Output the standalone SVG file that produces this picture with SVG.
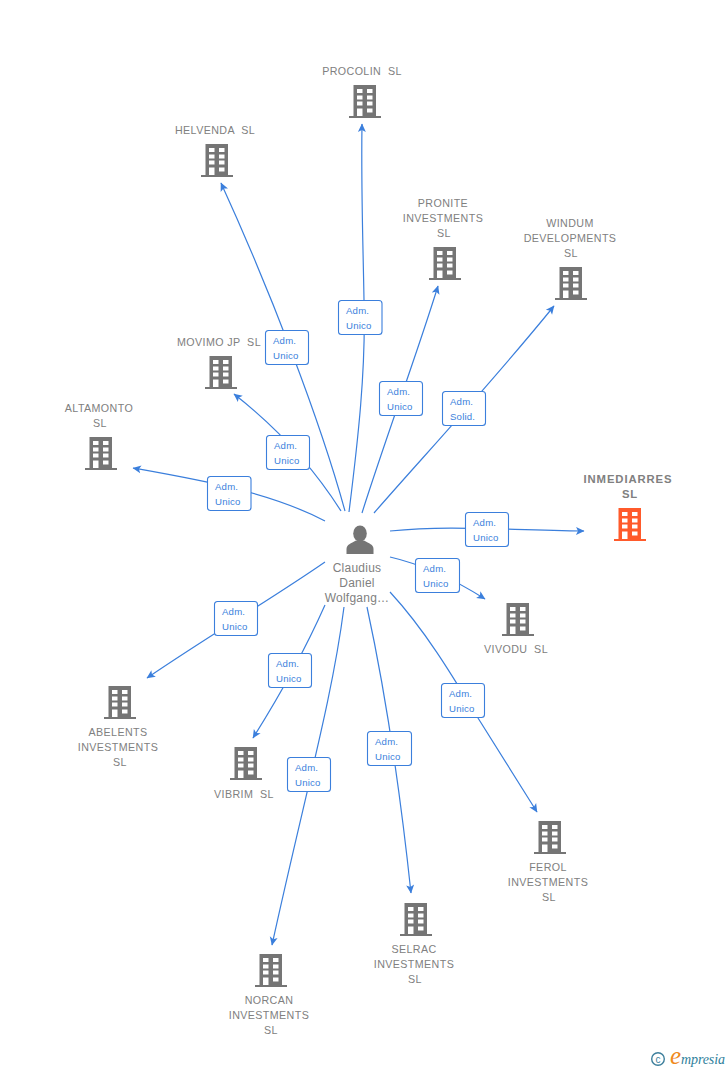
<svg xmlns="http://www.w3.org/2000/svg" width="728" height="1070" viewBox="0 0 728 1070">
<style>
.c{fill:none;stroke:#3b7fdc;stroke-width:1.2;marker-end:url(#a)}
.t{font:10.7px "Liberation Sans",Arial,sans-serif;fill:#808080;text-anchor:middle;letter-spacing:.4px;white-space:pre}
.l rect{fill:#fff;stroke:#3b7fdc;stroke-width:1.1}
.l text{font:9.6px "Liberation Sans",Arial,sans-serif;fill:#3b7fdc;letter-spacing:.2px}
</style>
<defs>
<marker id="a" markerWidth="11" markerHeight="10" refX="9" refY="5" orient="auto" markerUnits="userSpaceOnUse"><path d="M1 1L9.500 5L1 9L3 5Z" fill="#3b7fdc"/></marker>
<path id="b" fill-rule="evenodd" d="M4.500 0H27V31H32V33H0V31H4.500ZM8 4V8H13.500V4ZM18 4V8H23.500V4ZM8 10.500V14.500H13.500V10.500ZM18 10.500V14.500H23.500V10.500ZM8 16.500V20.500H13.500V16.500ZM18 16.500V20.500H23.500V16.500ZM8 23.500V31H13.500V23.500ZM18 23.500V27.500H23.500V23.500Z"/>
</defs>
<g id="connectors">
<path class="c" d="M349 512C358 440 366 370 364 300C363 240 361 190 362 124"/>
<path class="c" d="M345 511C320 420 270 290 221 183"/>
<path class="c" d="M362 513C385 440 415 360 438 286"/>
<path class="c" d="M374 513C420 460 490 385 554 306"/>
<path class="c" d="M341 511C315 470 280 430 234 394"/>
<path class="c" d="M325 521C270 492 200 480 133 468"/>
<path class="c" d="M390 531C450 525 500 530 584 531"/>
<path class="c" d="M390 557C425 565 455 580 485 599"/>
<path class="c" d="M325 562C270 600 210 635 147 678"/>
<path class="c" d="M325 605C305 650 280 695 253 738"/>
<path class="c" d="M344 607C332 700 306 790 272 945"/>
<path class="c" d="M367 607C385 690 400 790 411 893"/>
<path class="c" d="M390 592C425 630 452 675 478 718L537 812"/>
</g>
<g id="labels">
<g class="l" transform="translate(338.500 300.500)"><rect width="43.500" height="34" rx="3"/><text x="7.500" y="13">Adm.</text><text x="7.500" y="28">Unico</text></g>
<g class="l" transform="translate(265.500 330.500)"><rect width="43" height="34" rx="3"/><text x="7.500" y="13">Adm.</text><text x="7.500" y="28">Unico</text></g>
<g class="l" transform="translate(379.500 381.500)"><rect width="43" height="34" rx="3"/><text x="7.500" y="13">Adm.</text><text x="7.500" y="28">Unico</text></g>
<g class="l" transform="translate(442.500 391.500)"><rect width="43" height="34" rx="3"/><text x="7.500" y="13">Adm.</text><text x="7.500" y="28">Solid.</text></g>
<g class="l" transform="translate(266.500 435.500)"><rect width="43" height="34" rx="3"/><text x="7.500" y="13">Adm.</text><text x="7.500" y="28">Unico</text></g>
<g class="l" transform="translate(207.500 476.500)"><rect width="43.500" height="34" rx="3"/><text x="7.500" y="13">Adm.</text><text x="7.500" y="28">Unico</text></g>
<g class="l" transform="translate(465.500 512.500)"><rect width="43" height="34" rx="3"/><text x="7.500" y="13">Adm.</text><text x="7.500" y="28">Unico</text></g>
<g class="l" transform="translate(415.500 558.500)"><rect width="44" height="34" rx="3"/><text x="7.500" y="13">Adm.</text><text x="7.500" y="28">Unico</text></g>
<g class="l" transform="translate(214.500 601.500)"><rect width="43" height="34" rx="3"/><text x="7.500" y="13">Adm.</text><text x="7.500" y="28">Unico</text></g>
<g class="l" transform="translate(268.500 653.500)"><rect width="43" height="34" rx="3"/><text x="7.500" y="13">Adm.</text><text x="7.500" y="28">Unico</text></g>
<g class="l" transform="translate(287.500 757.500)"><rect width="43" height="34" rx="3"/><text x="7.500" y="13">Adm.</text><text x="7.500" y="28">Unico</text></g>
<g class="l" transform="translate(367.500 731.500)"><rect width="44" height="34" rx="3"/><text x="7.500" y="13">Adm.</text><text x="7.500" y="28">Unico</text></g>
<g class="l" transform="translate(441.500 683.500)"><rect width="43" height="34" rx="3"/><text x="7.500" y="13">Adm.</text><text x="7.500" y="28">Unico</text></g>
</g>
<g id="person">
<ellipse cx="360" cy="533.500" rx="6.800" ry="8" fill="#757575"/>
<path fill="#757575" d="M346.500 554V549C346.500 544.500 351 543.500 356 540.500H364C369 543.500 373.500 544.500 373.500 549V554Z"/>
<text class="t" style="font-size:12px;letter-spacing:.25px"><tspan x="357" y="572">Claudius</tspan><tspan x="357" y="587">Daniel</tspan><tspan x="357" y="602">Wolfgang…</tspan></text>
</g>
<g id="procolin"><use href="#b" x="349" y="85" fill="#757575"/><text class="t" x="362" y="75">PROCOLIN  SL</text></g>
<g id="helvenda"><use href="#b" x="201" y="144" fill="#757575"/><text class="t" x="215" y="134">HELVENDA  SL</text></g>
<g id="pronite"><use href="#b" x="429" y="247" fill="#757575"/><text class="t"><tspan x="443" y="207">PRONITE</tspan><tspan x="443" y="222">INVESTMENTS</tspan><tspan x="444" y="237">SL</tspan></text></g>
<g id="windum"><use href="#b" x="555" y="267" fill="#757575"/><text class="t"><tspan x="570" y="227">WINDUM</tspan><tspan x="570" y="242">DEVELOPMENTS</tspan><tspan x="571" y="257">SL</tspan></text></g>
<g id="movimo"><use href="#b" x="205" y="356" fill="#757575"/><text class="t" x="219" y="346">MOVIMO JP  SL</text></g>
<g id="altamonto"><use href="#b" x="85" y="437" fill="#757575"/><text class="t"><tspan x="99" y="412">ALTAMONTO</tspan><tspan x="100" y="427">SL</tspan></text></g>
<g id="inmediarres"><use href="#b" x="614" y="508" fill="#ff5a2b"/><text class="t" style="font-weight:bold;font-size:11.300px;letter-spacing:.9px"><tspan x="628" y="483">INMEDIARRES</tspan><tspan x="630" y="498">SL</tspan></text></g>
<g id="vivodu"><use href="#b" x="502" y="603" fill="#757575"/><text class="t" x="516" y="653">VIVODU  SL</text></g>
<g id="abelents"><use href="#b" x="104" y="686" fill="#757575"/><text class="t"><tspan x="118" y="736">ABELENTS</tspan><tspan x="118" y="751">INVESTMENTS</tspan><tspan x="120" y="766">SL</tspan></text></g>
<g id="vibrim"><use href="#b" x="230" y="747" fill="#757575"/><text class="t" x="244" y="798">VIBRIM  SL</text></g>
<g id="norcan"><use href="#b" x="255" y="954" fill="#757575"/><text class="t"><tspan x="269" y="1004">NORCAN</tspan><tspan x="269" y="1019">INVESTMENTS</tspan><tspan x="271" y="1034">SL</tspan></text></g>
<g id="selrac"><use href="#b" x="400" y="903" fill="#757575"/><text class="t"><tspan x="414" y="953">SELRAC</tspan><tspan x="414" y="968">INVESTMENTS</tspan><tspan x="415" y="983">SL</tspan></text></g>
<g id="ferol"><use href="#b" x="534" y="821" fill="#757575"/><text class="t"><tspan x="548" y="871">FEROL</tspan><tspan x="548" y="886">INVESTMENTS</tspan><tspan x="549" y="901">SL</tspan></text></g>
<g id="brand">
<circle cx="658" cy="1059" r="6.300" fill="none" stroke="#3d7f9c" stroke-width="1.400"/>
<text x="658" y="1062.500" font-family="'Liberation Sans',sans-serif" font-size="10" fill="#3d7f9c" text-anchor="middle">c</text>
<text x="670" y="1064" font-family="'Liberation Serif',serif" font-size="25" font-style="italic" fill="#f08a1d">e</text>
<text x="681" y="1064" font-family="'Liberation Serif',serif" font-size="14" font-style="italic" fill="#2f7f9c" textLength="44">mpresia</text>
</g>
</svg>
